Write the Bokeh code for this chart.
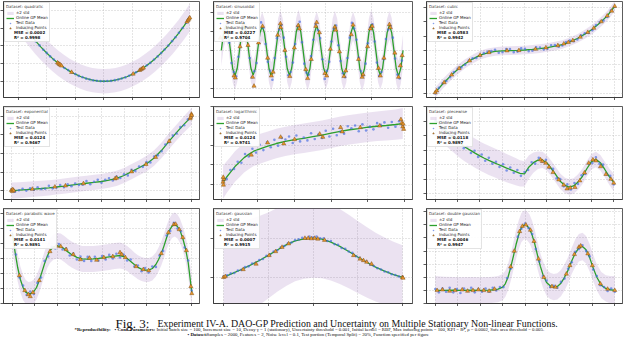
from bokeh.plotting import figure
from bokeh.models import (Range1d, SingleIntervalTicker, CustomJSTickFormatter,
                          Legend, LegendItem, Label)
from bokeh.layouts import column, row
from bokeh.embed import file_html
from bokeh.resources import INLINE

# ------------------------------------------------------------------ data
grid_125 = [-3.0, -2.875, -2.75, -2.625, -2.5, -2.375, -2.25, -2.125, -2.0, -1.875,
            -1.75, -1.625, -1.5, -1.375, -1.25, -1.125, -1.0, -0.875, -0.75, -0.625,
            -0.5, -0.375, -0.25, -0.125, 0.0, 0.125, 0.25, 0.375, 0.5, 0.625,
            0.75, 0.875, 1.0, 1.125, 1.25, 1.375, 1.5, 1.625, 1.75, 1.875,
            2.0, 2.125, 2.25, 2.375, 2.5, 2.625, 2.75, 2.875, 3.0]
grid_0_10 = [0.0, 0.2, 0.4, 0.6, 0.8, 1.0, 1.2, 1.4, 1.6, 1.8, 2.0, 2.2, 2.4, 2.6, 2.8,
             3.0, 3.2, 3.4, 3.6, 3.8, 4.0, 4.2, 4.4, 4.6, 4.8, 5.0, 5.2, 5.4, 5.6, 5.8,
             6.0, 6.2, 6.4, 6.6, 6.8, 7.0, 7.2, 7.4, 7.6, 7.8, 8.0, 8.2, 8.4, 8.6, 8.8,
             9.0, 9.2, 9.4, 9.6, 9.8, 10.0]
grid_m5_5 = [-5.0, -4.8, -4.6, -4.4, -4.2, -4.0, -3.8, -3.6, -3.4, -3.2, -3.0, -2.8, -2.6,
             -2.4, -2.2, -2.0, -1.8, -1.6, -1.4, -1.2, -1.0, -0.8, -0.6, -0.4, -0.2, 0.0,
             0.2, 0.4, 0.6, 0.8, 1.0, 1.2, 1.4, 1.6, 1.8, 2.0, 2.2, 2.4, 2.6, 2.8, 3.0,
             3.2, 3.4, 3.6, 3.8, 4.0, 4.2, 4.4, 4.6, 4.8, 5.0]

# quadratic
quad_x = [-2.8, -2.6, -2.4, -2.2, -2.0, -1.8, -1.6, -1.4, -1.2, -1.0, -0.8, -0.6, -0.4, -0.2, 0.0,
          0.2, 0.4, 0.6, 0.8, 1.0, 1.2, 1.4, 1.6, 1.8, 2.0, 2.2, 2.4, 2.6, 2.8, 3.0]
quad_mean = [7.84, 6.76, 5.76, 4.84, 4.0, 3.24, 2.56, 1.96, 1.44, 1.0, 0.64, 0.36, 0.16, 0.04, 0.0,
             0.04, 0.16, 0.36, 0.64, 1.0, 1.44, 1.96, 2.56, 3.24, 4.0, 4.84, 5.76, 6.76, 7.84, 9.0]
quad_std2 = [1.95, 1.92, 1.9, 1.87, 1.85, 1.82, 1.8, 1.78, 1.76, 1.75, 1.74, 1.73, 1.72, 1.72, 1.72,
             1.72, 1.72, 1.73, 1.74, 1.75, 1.76, 1.78, 1.8, 1.82, 1.84, 1.86, 1.88, 1.9, 1.93, 1.96]
quad_test_x = [-2.75, -2.62, -2.5, -2.38, -2.25, -2.12, -2.0, -1.88, -1.75, -1.62, -1.5, -1.38,
               -1.25, -1.12, -1.0, -0.88, -0.75, -0.62, -0.5, -0.38, -0.25, -0.12, 0.0, 0.12,
               0.25, 0.38, 0.5, 0.62, 0.75, 0.88, 1.0, 1.12, 1.25, 1.38, 1.5, 1.62, 1.75, 1.88,
               2.0, 2.12, 2.25, 2.38, 2.5, 2.62, 2.75, 2.88, 3.0]
quad_test_y = [7.58, 6.84, 6.27, 5.64, 5.08, 4.47, 4.02, 3.52, 3.08, 2.61, 2.27, 1.88, 1.58, 1.24,
               1.02, 0.76, 0.58, 0.37, 0.26, 0.13, 0.08, 0.02, 0.01, 0.03, 0.06, 0.16, 0.24, 0.4,
               0.55, 0.79, 0.99, 1.27, 1.55, 1.92, 2.26, 2.61, 3.08, 3.52, 4.01, 4.5, 5.05, 5.68,
               6.24, 6.88, 7.55, 8.3, 9.02]
quad_ind_x = [-1.62, -1.58, -1.55, -1.52, -1.48, -1.13, 1.02, 1.25, 1.3, 1.34, 1.38, 2.9, 2.94, 2.97, 3.0]
quad_ind_y = [2.62, 2.5, 2.4, 2.31, 2.19, 1.28, 1.04, 1.56, 1.69, 1.8, 1.9, 8.41, 8.64, 8.82, 9.0]

# sinusoidal (x in periods)
sin_x = [-0.75, -0.625, -0.5, -0.375, -0.25, -0.125, 0.0, 0.125,
         0.25, 0.375, 0.5, 0.625, 0.75, 0.875, 1.0, 1.125,
         1.25, 1.375, 1.5, 1.625, 1.75, 1.875, 2.0, 2.125,
         2.25, 2.375, 2.5, 2.625, 2.75, 2.875, 3.0, 3.125,
         3.25, 3.375, 3.5, 3.625, 3.75, 3.875, 4.0, 4.125,
         4.25, 4.375, 4.5, 4.625, 4.75, 4.875, 5.0, 5.125,
         5.25, 5.375, 5.5, 5.625, 5.75, 5.875, 6.0, 6.125,
         6.25, 6.375, 6.5, 6.625, 6.75, 6.875, 7.0, 7.125,
         7.25, 7.375, 7.5, 7.625, 7.75, 7.875, 8.0, 8.125,
         8.25, 8.375, 8.5, 8.625, 8.75, 8.875, 9.0, 9.125,
         9.25]
sin_mean = [0.0, 0.69, 0.98, 0.70, 0.01, -0.71, -1.0, -0.70,
            0.0, 0.72, 1.02, 0.71, -0.01, -0.69, -0.97, -0.71,
            0.01, 0.68, 0.95, 0.68, 0.0, -0.72, -1.03, -0.72,
            -0.01, 0.70, 1.0, 0.71, 0.01, -0.70, -0.99, -0.69,
            0.0, 0.73, 1.04, 0.72, 0.0, -0.71, -1.02, -0.71,
            0.01, 0.69, 0.97, 0.68, -0.01, -0.68, -0.96, -0.69,
            0.0, 0.70, 1.0, 0.70, 0.0, -0.71, -1.0, -0.72,
            -0.01, 0.68, 0.96, 0.69, 0.01, -0.73, -1.04, -0.73,
            0.0, 0.72, 1.03, 0.72, 0.0, -0.70, -0.98, -0.70,
            0.01, 0.70, 0.99, 0.70, 0.0, -0.71, -1.01, -0.71,
            0.0]
sin_std2 = [0.62, 0.6, 0.58, 0.57, 0.56, 0.55, 0.55, 0.55,
            0.55, 0.55, 0.56, 0.55, 0.55, 0.55, 0.56, 0.55,
            0.55, 0.55, 0.56, 0.55, 0.55, 0.55, 0.56, 0.55,
            0.55, 0.55, 0.56, 0.55, 0.55, 0.55, 0.56, 0.55,
            0.55, 0.55, 0.56, 0.55, 0.55, 0.55, 0.56, 0.55,
            0.55, 0.55, 0.56, 0.55, 0.55, 0.55, 0.56, 0.55,
            0.55, 0.55, 0.56, 0.55, 0.55, 0.55, 0.56, 0.55,
            0.55, 0.55, 0.56, 0.55, 0.55, 0.55, 0.56, 0.55,
            0.55, 0.55, 0.56, 0.55, 0.55, 0.55, 0.56, 0.55,
            0.55, 0.55, 0.56, 0.57, 0.58, 0.59, 0.6, 0.61,
            0.62]
sin_test_x = [-0.688, -0.562, -0.438, -0.312, -0.188, -0.062, 0.062, 0.188,
              0.312, 0.438, 0.562, 0.688, 0.812, 0.938, 1.062, 1.188,
              1.312, 1.438, 1.562, 1.688, 1.812, 1.938, 2.062, 2.188,
              2.312, 2.438, 2.562, 2.688, 2.812, 2.938, 3.062, 3.188,
              3.312, 3.438, 3.562, 3.688, 3.812, 3.938, 4.062, 4.188,
              4.312, 4.438, 4.562, 4.688, 4.812, 4.938, 5.062, 5.188,
              5.312, 5.438, 5.562, 5.688, 5.812, 5.938, 6.062, 6.188,
              6.312, 6.438, 6.562, 6.688, 6.812, 6.938, 7.062, 7.188,
              7.312, 7.438, 7.562, 7.688, 7.812, 7.938, 8.062, 8.188,
              8.312, 8.438, 8.562, 8.688, 8.812, 8.938, 9.062, 9.188]
sin_test_y = [0.45, 0.85, 1.05, 0.3, -0.5, -0.85, -1.02, -0.25,
              0.52, 0.98, 0.8, 0.45, -0.3, -1.05, -0.82, -0.5,
              0.3, 1.1, 0.88, 0.25, -0.45, -0.8, -1.15, -0.3,
              0.48, 0.82, 1.0, 0.5, -0.25, -0.98, -0.85, -0.48,
              0.25, 0.95, 1.12, 0.32, -0.52, -0.88, -0.95, -0.22,
              0.42, 1.02, 0.8, 0.48, -0.35, -1.12, -0.8, -0.45,
              0.35, 0.85, 0.98, 0.2, -0.42, -0.9, -1.05, -0.3,
              0.5, 1.08, 0.86, 0.42, -0.28, -0.82, -0.98, -0.52,
              0.28, 0.9, 1.02, 0.35, -0.48, -1.0, -0.85, -0.35,
              0.45, 0.82, 0.95, 0.5, -0.32, -0.95, -1.1, -0.4]
sin_ind_x = [-0.8, -0.05, 0.02, 0.28, 0.48, 0.72, 0.97, 1.05, 1.3, 1.52, 1.8, 2.0, 2.1, 2.35,
             2.5, 2.52, 2.75, 3.02, 3.27, 3.48, 3.55, 3.9, 4.0, 4.2, 4.45, 4.5, 4.65, 4.95,
             5.05, 5.25, 5.5, 5.55, 5.75, 6.0, 6.1, 6.4, 6.5, 6.8, 7.0, 7.05, 7.3, 7.45,
             7.55, 7.9, 8.0, 8.2, 8.5, 8.55, 8.8, 9.0, 9.1, 9.2]
sin_ind_y = [0.49, -1.0, -1.08, 0.15, 1.0, 0.2, -1.05, -1.4, 0.3, 0.95, -0.3, -1.0, -0.85, 0.6,
             1.05, 0.9, 0.0, -1.02, 0.1, 0.98, 0.85, -0.75, -1.1, -0.35, 0.95, 1.1, 0.7, -0.9,
             -1.0, 0.05, 0.92, 0.8, -0.05, -1.02, -0.8, 0.62, 1.0, -0.35, -1.05, -0.95, 0.15, 0.85,
             0.95, -0.7, -1.0, -0.3, 1.02, 0.9, -0.1, -1.05, -0.6, -0.2]

# cubic
cub_x = [-3.0, -2.75, -2.5, -2.25, -2.0, -1.75, -1.5, -1.25, -1.0, -0.75, -0.5, -0.25, 0.0,
         0.25, 0.5, 0.75, 1.0, 1.25, 1.5, 1.75, 2.0, 2.25, 2.5, 2.75, 3.0]
cub_mean = [-29.3, -23.3, -18.0, -13.3, -9.3, -6.0, -3.3, -1.7, -0.7, -0.3, -0.1, 0.0, 0.3,
            0.7, 1.3, 2.0, 3.0, 4.1, 6.0, 8.3, 11.3, 14.7, 19.0, 24.0, 30.7]
cub_std2 = [3.6, 3.4, 3.3, 3.2, 3.1, 3.0, 3.0, 3.0, 3.0, 3.0, 3.0, 3.0, 3.0,
            3.0, 3.0, 3.0, 3.0, 3.0, 3.0, 3.0, 3.1, 3.2, 3.3, 3.4, 3.6]
cub_test_y = [-29.8, -26.0, -22.8, -21.2, -18.6, -15.0, -12.7, -11.8, -9.9, -7.0, -5.4, -5.3,
              -3.9, -1.9, -1.0, -0.4, 0.4, -1.6, -1.3, 1.0, 0.9, -1.2, -0.8, 1.4, 1.1, -0.6,
              -0.2, 2.2, 2.0, 0.6, 1.2, 3.6, 3.7, 2.6, 3.4, 5.9, 6.8, 6.4, 7.6, 10.6, 11.9,
              12.1, 14.0, 17.6, 19.7, 20.8, 23.3, 27.9, 30.2]
cub_ind_x = [-3.0, -2.95, -2.7, -2.45, -2.2, -1.85, -1.5, -1.2, -0.6, -0.2, 0.35, 0.7, 1.1,
             1.3, 1.45, 1.6, 1.85, 2.1, 2.3, 2.55, 2.75, 2.9, 3.0]
cub_ind_y = [-29.3, -28.0, -22.3, -17.0, -12.5, -7.2, -3.3, -1.4, -0.2, 0.0, 0.9, 1.9, 3.4,
             4.6, 5.6, 6.9, 9.3, 12.6, 15.5, 20.0, 24.0, 27.4, 30.7]

# exponential
exp_x = [-3.0, -2.75, -2.5, -2.25, -2.0, -1.75, -1.5, -1.25, -1.0, -0.75, -0.5, -0.25, 0.0,
         0.25, 0.5, 0.75, 1.0, 1.25, 1.5, 1.75, 2.0, 2.25, 2.5, 2.75, 3.0]
exp_mean = [0.0, 0.10, 0.26, 0.42, 0.57, 0.76, 0.97, 1.20, 1.46, 1.72, 1.98, 2.2, 2.45,
            2.82, 3.29, 4.07, 5.12, 6.16, 7.26, 8.77, 10.86, 13.34, 15.69, 17.91, 19.99]
exp_std2 = [2.2, 2.15, 2.1, 2.1, 2.1, 2.05, 2.05, 2.05, 2.05, 2.05, 2.05, 2.05, 2.05,
            2.05, 2.05, 2.05, 2.05, 2.05, 2.1, 2.1, 2.1, 2.15, 2.15, 2.2, 2.3]
exp_test_y = [0.3, -0.3, 0.1, 0.5, 0.0, 0.6, 0.2, 0.9, 0.4, 0.5, 1.3, 0.6, 0.8, 1.5, 0.9,
              1.7, 1.2, 1.9, 1.5, 1.6, 2.6, 1.7, 2.4, 2.9, 2.1, 2.9, 3.3, 2.7, 3.8, 3.4,
              4.4, 4.1, 5.6, 5.3, 6.5, 6.4, 7.7, 7.6, 9.2, 9.5, 10.6, 12.4, 13.0, 14.8, 15.4,
              17.1, 17.6, 19.2, 19.8]
exp_ind_x = [-3.0, -2.97, -2.95, -2.92, -2.3, -1.55, -1.2, -0.6, 0.45, 0.5, 1.0, 1.48, 1.8,
             2.25, 2.95, 2.97, 2.99, 3.0]
exp_ind_y = [0.1, -0.2, 0.3, 0.0, 0.4, 1.0, 1.3, 1.9, 3.2, 3.4, 5.1, 7.1, 9.0, 13.3, 19.4,
             19.8, 20.6, 20.3]

# logarithmic
log_x = [0.1, 0.3, 0.5, 0.75, 1.0, 1.25, 1.5, 1.75, 2.0, 2.5, 3.0, 3.5, 4.0, 4.5, 5.0, 5.5,
         6.0, 6.5, 7.0, 7.5, 8.0, 8.5, 9.0, 9.5, 9.9]
log_mean = [0.09, 0.36, 0.6, 0.9, 1.13, 1.36, 1.53, 1.68, 1.78, 1.94, 2.09, 2.2, 2.29, 2.36,
            2.44, 2.52, 2.62, 2.72, 2.8, 2.86, 2.93, 2.98, 3.02, 3.07, 3.12]
log_std2 = [0.85, 0.82, 0.8, 0.79, 0.78, 0.77, 0.77, 0.77, 0.77, 0.76, 0.76, 0.76, 0.76, 0.76,
            0.76, 0.76, 0.76, 0.76, 0.76, 0.76, 0.76, 0.76, 0.77, 0.78, 0.8]
log_test_x = [0.1, 0.3, 0.5, 0.7, 0.9, 1.1, 1.3, 1.5, 1.7, 1.9, 2.1, 2.3, 2.5, 2.7, 2.9, 3.1,
              3.3, 3.5, 3.7, 3.9, 4.1, 4.3, 4.5, 4.7, 4.9, 5.1, 5.3, 5.5, 5.7, 5.9, 6.1, 6.3,
              6.5, 6.7, 6.9, 7.1, 7.3, 7.5, 7.7, 7.9, 8.1, 8.3, 8.5, 8.7, 8.9, 9.1, 9.3, 9.5,
              9.7, 9.9]
log_test_y = [0.15, 0.25, 0.72, 0.78, 1.15, 1.1, 1.55, 1.42, 1.82, 1.62,
              2.02, 1.75, 2.15, 1.9, 2.28, 1.98, 2.38, 2.3, 2.45, 2.12,
              2.5, 2.2, 2.4, 2.25, 2.62, 2.32, 2.55, 2.38, 2.75, 2.45,
              2.85, 2.52, 2.7, 2.6, 2.98, 2.88, 3.02, 2.72, 3.08, 2.76,
              2.95, 2.82, 3.14, 3.05, 3.18, 2.9, 3.2, 2.96, 3.24, 3.0]
log_ind_x = [0.1, 0.12, 0.14, 0.11, 1.64, 2.53, 3.24, 3.41, 4.0, 5.37, 5.54, 6.51, 6.6, 7.58,
             8.64, 9.8, 9.85, 9.9, 9.95, 9.92]
log_ind_y = [0.1, -0.05, 0.25, 0.35, 1.5, 2.13, 2.42, 2.08, 2.3, 2.58, 2.42, 2.92, 2.7, 2.92,
             3.0, 3.33, 3.15, 2.95, 2.83, 3.1]

# piecewise
pw_x = [0.0, 0.25, 0.5, 0.75, 1.0, 1.25, 1.5, 1.75, 2.0, 2.25, 2.5, 2.75, 3.0, 3.25, 3.5,
        3.75, 4.0, 4.25, 4.5, 4.75, 5.0, 5.25, 5.5, 5.75, 6.0, 6.25, 6.5, 6.75, 7.0, 7.25,
        7.5, 7.75, 8.0, 8.25, 8.5, 8.75, 9.0, 9.25, 9.5, 9.75, 10.0]
pw_mean = [2.3, 2.05, 1.82, 1.6, 1.4, 1.2, 1.02, 0.86, 0.72, 0.58, 0.45, 0.33, 0.22, 0.12, 0.02,
           -0.08, -0.18, -0.27, -0.36, -0.45, -0.48, -0.12, 0.1, 0.23, 0.24, 0.1, -0.2, -0.52,
           -0.86, -1.06, -1.16, -1.1, -0.9, -0.6, -0.2, 0.15, 0.27, 0.1, -0.25, -0.62, -0.92]
pw_std2 = [0.8, 0.78, 0.77, 0.76, 0.75, 0.75, 0.75, 0.75, 0.75, 0.75, 0.75, 0.75, 0.75, 0.75,
           0.75, 0.74, 0.73, 0.72, 0.7, 0.68, 0.65, 0.6, 0.52, 0.45, 0.42, 0.4, 0.4, 0.4, 0.4,
           0.4, 0.4, 0.4, 0.4, 0.4, 0.4, 0.4, 0.4, 0.4, 0.4, 0.42, 0.45]
pw_test_y = [2.25, 2.2, 1.8, 1.85, 1.48, 1.52, 1.1, 1.2, 0.85, 0.95,
             0.6, 0.72, 0.4, 0.52, 0.2, 0.35, 0.05, 0.15, -0.12, 0.02,
             -0.3, -0.15, -0.42, -0.28, -0.58, -0.38, -0.28, 0.12, 0.05, 0.35,
             0.15, 0.25, -0.18, -0.22, -0.7, -0.75, -1.12, -1.02, -1.28, -0.95,
             -1.0, -0.55, -0.48, 0.05, 0.08, 0.38, 0.05, 0.0, -0.5, -0.58, -1.02]
pw_ind_x = [5.9, 6.0, 6.19, 6.37, 6.6, 6.92, 7.2, 7.38, 7.56, 7.83, 8.1, 8.36, 8.6, 8.83, 9.0,
            9.26, 9.56, 9.84, 10.0]
pw_ind_y = [0.25, 0.17, 0.08, -0.12, -0.4, -0.78, -1.05, -1.25, -1.2, -1.17, -0.83, -0.42,
            0.08, 0.25, 0.2, -0.1, -0.5, -0.75, -0.95]

# parabolic wave
pb_x = [0.0, 0.15, 0.3, 0.45, 0.6, 0.75, 0.9, 1.05, 1.2, 1.35, 1.5, 1.65, 1.8, 1.95,
        2.1, 2.3, 2.5, 2.7, 2.9, 3.1, 3.3, 3.6, 3.9, 4.2, 4.5, 4.8, 5.1, 5.4, 5.7, 6.0,
        6.2, 6.4, 6.6, 6.8, 7.0, 7.2, 7.4, 7.6, 7.8, 8.0, 8.15, 8.3, 8.45, 8.6, 8.75, 8.9,
        9.05, 9.2, 9.35, 9.5, 9.65, 9.8, 9.9, 10.0]
pb_mean = [1.3, 0.35, -0.45, -1.05, -1.45, -1.68, -1.77, -1.75, -1.65, -1.45, -1.1, -0.68,
           -0.25, 0.12, 0.4, 0.58, 0.63, 0.6, 0.48, 0.33, 0.2, 0.06, -0.02, -0.03, -0.02, 0.0,
           0.04, 0.08, 0.12, 0.15, 0.1, 0.0, -0.15, -0.3, -0.44, -0.53, -0.58, -0.58, -0.5,
           -0.3, -0.05, 0.25, 0.62, 1.05, 1.4, 1.62, 1.7, 1.6, 1.38, 1.0, 0.5, -0.2, -0.95, -1.7]
pb_std2 = [0.85, 0.78, 0.7, 0.65, 0.62, 0.6, 0.6, 0.6, 0.6, 0.6, 0.6, 0.6, 0.6, 0.6,
           0.62, 0.63, 0.64, 0.65, 0.65, 0.65, 0.65, 0.65, 0.65, 0.65, 0.65, 0.65, 0.65, 0.65,
           0.65, 0.65, 0.64, 0.63, 0.62, 0.6, 0.6, 0.6, 0.6, 0.6, 0.6, 0.6, 0.6, 0.6, 0.6, 0.6,
           0.6, 0.6, 0.6, 0.6, 0.6, 0.6, 0.62, 0.66, 0.72, 0.8]
pb_test_y = [1.2, 0.2, -0.95, -1.35, -1.82, -1.65, -1.78, -1.22, -0.95, -0.12,
             0.1, 0.58, 0.5, 0.72, 0.45, 0.5, 0.15, 0.25, -0.05, 0.1,
             -0.12, 0.08, -0.12, 0.09, -0.1, 0.12, -0.05, 0.18, 0.0, 0.24,
             0.05, 0.2, -0.1, -0.05, -0.4, -0.35, -0.64, -0.48, -0.7, -0.4,
             -0.42, 0.15, 0.38, 1.15, 1.38, 1.78, 1.5, 1.36, 0.55, -0.1, -1.6]
pb_ind_x = [0.4, 0.7, 0.9, 1.0, 1.15, 1.5, 2.1, 2.45, 2.7, 3.0, 3.4, 3.8, 4.3, 4.7, 5.1, 5.6,
            6.0, 6.1, 6.3, 6.9, 7.3, 7.6, 8.3, 8.7, 9.0, 9.1, 9.3, 9.5, 9.7, 9.95, 10.0]
pb_ind_y = [-0.85, -1.6, -1.8, -1.9, -1.7, -1.1, 0.35, 0.62, 0.6, 0.45, 0.2, -0.05, 0.02,
            -0.08, 0.05, 0.1, 0.3, 0.2, 0.05, -0.4, -0.55, -0.6, 0.25, 1.3, 1.7, 1.72, 1.45,
            1.05, 0.4, -1.4, -1.75]

# gaussian
g_x = [-5.0, -4.5, -4.0, -3.5, -3.0, -2.5, -2.0, -1.5, -1.0, -0.5, 0.0, 0.5, 1.0, 1.5, 2.0,
       2.5, 3.0, 3.5, 4.0, 4.5, 5.0]
g_mean = [0.0, 0.1, 0.2, 0.31, 0.43, 0.56, 0.7, 0.83, 0.93, 0.985, 1.0, 0.975, 0.9, 0.79,
          0.66, 0.52, 0.385, 0.26, 0.16, 0.07, 0.0]
g_std2 = [1.3, 1.26, 1.22, 1.18, 1.14, 1.1, 1.07, 1.05, 1.03, 1.02, 1.01, 1.0, 0.98, 0.96,
          0.94, 0.92, 0.9, 0.88, 0.86, 0.84, 0.82]
g_test_y = [0.02, 0.05, 0.1, 0.11, 0.17, 0.19, 0.26, 0.28, 0.35, 0.37,
            0.44, 0.47, 0.55, 0.58, 0.66, 0.69, 0.77, 0.8, 0.87, 0.89,
            0.95, 0.97, 1.01, 1.0, 1.04, 1.02, 1.04, 1.0, 1.0, 0.93,
            0.93, 0.85, 0.83, 0.75, 0.73, 0.66, 0.63, 0.54, 0.5, 0.43,
            0.4, 0.32, 0.29, 0.23, 0.2, 0.15, 0.13, 0.08, 0.06, 0.02, 0.01]
g_ind_x = [-5.0, -4.9, -3.9, -3.18, -2.45, -2.09, -1.73, -1.36, -0.45, -0.27, -0.09, 0.09,
           0.27, 0.64, 2.27, 2.63, 2.82, 3.0, 3.27, 5.0, 5.03]
g_ind_y = [0.0, 0.02, 0.2, 0.34, 0.56, 0.66, 0.77, 0.86, 1.0, 1.0, 0.99, 1.0, 0.98, 0.95,
           0.56, 0.47, 0.43, 0.39, 0.34, 0.0, -0.02]

# double gaussian
dg_x = [-5.0, -4.5, -4.0, -3.5, -3.0, -2.5, -2.0, -1.75, -1.5, -1.25, -1.1, -0.95, -0.8,
        -0.65, -0.5, -0.35, -0.2, -0.05, 0.1, 0.25, 0.4, 0.55, 0.7, 0.85, 1.0, 1.2, 1.4,
        1.6, 1.8, 2.0, 2.2, 2.4, 2.6, 2.8, 3.0, 3.2, 3.4, 3.6, 3.8, 4.0, 4.25, 4.5, 4.75, 5.0]
dg_mean = [0.0, 0.0, 0.005, 0.0, 0.005, 0.0, 0.005, 0.01, 0.02, 0.05, 0.1, 0.2, 0.35, 0.52,
           0.7, 0.85, 0.96, 1.0, 0.99, 0.94, 0.84, 0.7, 0.53, 0.37, 0.24, 0.12, 0.07, 0.05,
           0.06, 0.11, 0.2, 0.31, 0.45, 0.57, 0.65, 0.67, 0.62, 0.5, 0.34, 0.2, 0.08, 0.03,
           0.01, 0.0]
dg_std2 = [0.22, 0.21, 0.2, 0.2, 0.2, 0.2, 0.2, 0.2, 0.2, 0.2, 0.2, 0.2, 0.21, 0.21, 0.22,
           0.22, 0.22, 0.22, 0.22, 0.22, 0.22, 0.21, 0.21, 0.2, 0.2, 0.2, 0.2, 0.2, 0.2, 0.2,
           0.2, 0.2, 0.2, 0.21, 0.21, 0.21, 0.21, 0.21, 0.2, 0.2, 0.2, 0.2, 0.21, 0.22]
dg_test_y = [0.02, -0.03, 0.03, -0.02, 0.04, -0.03, 0.02, -0.04, 0.03, -0.01,
             0.04, -0.03, 0.02, -0.02, 0.03, -0.02, 0.04, 0.0, 0.05, 0.05,
             0.19, 0.33, 0.6, 0.82, 0.94, 1.02, 0.95, 0.86, 0.63, 0.44,
             0.22, 0.15, 0.05, 0.07, 0.04, 0.13, 0.18, 0.33, 0.43, 0.59,
             0.63, 0.69, 0.6, 0.52, 0.32, 0.22, 0.08, 0.05, -0.01, 0.03, -0.02]
dg_ind_x = [-4.9, -4.6, -4.2, -3.9, -3.5, -3.2, -2.9, -2.6, -2.3, -2.0, -1.7, -0.8, -0.6,
            -0.3, -0.15, 0.05, 0.3, 0.5, 0.75, 1.05, 1.5, 1.7, 2.3, 2.5, 2.75, 3.0, 3.1, 3.5,
            3.75, 4.2, 4.6, 5.0]
dg_ind_y = [0.0, 0.01, -0.01, 0.0, 0.01, -0.01, 0.0, 0.01, 0.0, -0.01, 0.02, 0.36, 0.6, 0.9,
            0.98, 1.0, 0.92, 0.75, 0.48, 0.2, 0.06, 0.05, 0.25, 0.38, 0.55, 0.66, 0.68, 0.56,
            0.38, 0.1, 0.02, 0.0]

dataset_names = ["quadratic", "sinusoidal", "cubic", "exponential", "logarithmic",
                 "piecewise", "parabolic wave", "gaussian", "double gaussian"]
mse_values = ["0.0002", "0.0227", "0.0583", "0.0124", "0.0124", "0.0118", "0.0141", "0.0007", "0.0046"]
r2_values = ["0.9998", "0.9704", "0.9942", "0.9467", "0.9741", "0.9897", "0.9891", "0.9915", "0.9947"]

# ------------------------------------------------------------------ styling / layout
BAND_C, BAND_A = "#7b3f9e", 0.15
MEAN_C = "#2ca02c"
TEST_C = "#4169e1"
IND_FILL, IND_LINE = "#e8962e", "#6b3f0a"
FONT = "DejaVu Sans"
LFS = 4.0                      # legend font size (px)
LM, LP, GW, GH, LS, RH, TS = 1, 1, 8, 4, 2, 5, 1   # integer legend metrics
TH = 4.66                      # estimated title text height

COL_W = [196, 199, 196]
ROW_H = [96, 93, 95]

specs = [
    (quad_x, quad_mean, quad_std2, quad_test_x, quad_test_y, quad_ind_x, quad_ind_y,
     (-3.51, 3.34), (-2.3, 11.3), 1.0, 2.5),
    (sin_x, sin_mean, sin_std2, sin_test_x, sin_test_y, sin_ind_x, sin_ind_y,
     (-1.18, 9.77), (-1.85, 1.92), 2.5, 0.75),
    (cub_x, cub_mean, cub_std2, grid_125, cub_test_y, cub_ind_x, cub_ind_y,
     (-3.29, 3.26), (-32.7, 34.0), 0.75, 10),
    (exp_x, exp_mean, exp_std2, grid_125, exp_test_y, exp_ind_x, exp_ind_y,
     (-3.26, 3.26), (-2.4, 22.66), 0.75, 5),
    (log_x, log_mean, log_std2, log_test_x, log_test_y, log_ind_x, log_ind_y,
     (-0.42, 10.43), (-0.8, 4.0), 2, 1),
    (pw_x, pw_mean, pw_std2, grid_0_10, pw_test_y, pw_ind_x, pw_ind_y,
     (-0.49, 10.49), (-1.8, 3.0), 1.25, 0.75),
    (pb_x, pb_mean, pb_std2, grid_0_10, pb_test_y, pb_ind_x, pb_ind_y,
     (-0.49, 10.43), (-2.25, 2.5), 1.25, 0.75),
    (g_x, g_mean, g_std2, grid_m5_5, g_test_y, g_ind_x, g_ind_y,
     (-5.56, 5.56), (-0.67, 1.76), 2.5, 1),
    (dg_x, dg_mean, dg_std2, grid_m5_5, dg_test_y, dg_ind_x, dg_ind_y,
     (-5.49, 5.43), (-0.2, 1.25), 1.25, 0.2),
]


def style_axis(ax, interval):
    ax.ticker = SingleIntervalTicker(interval=interval, num_minor_ticks=0)
    ax.formatter = CustomJSTickFormatter(code="return ''")
    ax.major_label_text_font_size = "1px"
    ax.major_label_standoff = 0
    ax.major_tick_out = 3
    ax.major_tick_in = 0
    ax.minor_tick_line_color = None
    ax.axis_line_color = "#333333"
    ax.axis_line_width = 0.8
    ax.major_tick_line_color = "#333333"
    ax.major_tick_line_width = 0.8


def legend_common(**extra):
    kw = dict(spacing=0, glyph_width=GW, glyph_height=GH, label_height=RH, label_width=10,
              label_standoff=LS, label_text_font=FONT, label_text_font_size=f"{LFS}px",
              label_text_color="#222222", padding=LP)
    kw.update(extra)
    return kw


def build_panel(i):
    xs, mean, std2, tx, ty, ix, iy, xr, yr, xint, yint = specs[i]
    fw, fh = COL_W[i % 3], ROW_H[i // 3]
    p = figure(frame_width=fw, frame_height=fh, x_range=Range1d(*xr), y_range=Range1d(*yr),
               output_backend="svg", toolbar_location=None,
               min_border_left=3, min_border_right=1, min_border_top=1, min_border_bottom=3)
    p.background_fill_color = "white"
    p.outline_line_color = "#333333"
    p.outline_line_width = 0.8
    style_axis(p.xaxis[0], xint)
    style_axis(p.yaxis[0], yint)
    p.grid.grid_line_color = "#aaaaaa"
    p.grid.grid_line_dash = "1 2"
    p.grid.grid_line_width = 0.6

    lower = [m - s for m, s in zip(mean, std2)]
    upper = [m + s for m, s in zip(mean, std2)]
    band = p.varea(x=xs, y1=lower, y2=upper, fill_color=BAND_C, fill_alpha=BAND_A)
    line = p.line(xs, mean, line_color=MEAN_C, line_width=1.3)
    test = p.scatter(tx, ty, size=2.6, fill_color=TEST_C, line_color=None, fill_alpha=0.65)
    ind = p.scatter(ix, iy, marker="triangle", size=4.2, fill_color=IND_FILL,
                    line_color=IND_LINE, line_width=0.4)
    dummy = p.scatter(x=[], y=[], alpha=0)

    items = [LegendItem(label="±2 std", renderers=[band]),
             LegendItem(label="Online GP Mean", renderers=[line]),
             LegendItem(label="Test Data", renderers=[test]),
             LegendItem(label="Inducing Points", renderers=[ind]),
             LegendItem(label=" ", renderers=[dummy]),
             LegendItem(label=" ", renderers=[dummy])]
    leg = Legend(items=items, title="Dataset: " + dataset_names[i], location="top_left",
                 margin=LM,
                 title_text_font=FONT, title_text_font_size=f"{LFS}px",
                 title_text_font_style="normal", title_text_color="#444444",
                 title_standoff=TS,
                 border_line_color="#c8c8c8", border_line_width=0.6,
                 background_fill_color="white", background_fill_alpha=0.9,
                 **legend_common())
    p.add_layout(leg)

    # bold metric rows, drawn by a second (transparent) legend over the reserved rows
    top_of_rows = LM + LP + TH + TS + 4 * RH - LP
    h2 = 2 * LP + 2 * RH
    metrics = Legend(items=[LegendItem(label="MSE = " + mse_values[i], renderers=[dummy]),
                            LegendItem(label="R² = " + r2_values[i], renderers=[dummy])],
                     location=(LM, fh - top_of_rows - h2), margin=0,
                     border_line_color=None, background_fill_alpha=0,
                     **legend_common(label_text_font_style="bold", label_text_color="#111111"))
    p.add_layout(metrics)
    return p


panels = [build_panel(i) for i in range(9)]

# caption
cap = figure(width=624, height=26, x_range=Range1d(0, 624), y_range=Range1d(0, 26),
             output_backend="svg", toolbar_location=None, x_axis_type=None, y_axis_type=None,
             min_border=0)
cap.grid.visible = False
cap.outline_line_color = None
SERIF = "Liberation Serif"
cap_texts = [
    (115.0, 14.0, "Fig. 3:", "13px", "normal"),
    (157.0, 14.0, "Experiment  IV-A. DAO-GP Prediction and Uncertainty on Multiple Stationary Non-linear Functions.", "9.9px", "normal"),
    (74.0, 7.6, "*Reproducibility:", "4.8px", "bold"),
    (114.0, 7.6, "• Conf. Parameters:", "4.8px", "bold"),
    (156.0, 7.6, "Initial batch size = 100, Increment size = 10, Decay γ = 1 (stationary), Uncertainty threshold = 0.001, Initial kernel = RBF, Max inducing points = 100, KPI = R², ρ = 0.0002, Safe area threshold = 0.005.", "4.8px", "normal"),
    (187.0, 2.8, "• Dataset:", "4.8px", "bold"),
    (206.0, 2.8, "Samples = 2000, Features = 2, Noise level = 0.1, Test portion (Temporal Split) = 20%, Function specified per figure", "4.8px", "normal"),
]
for x, y, t, fs, st in cap_texts:
    cap.add_layout(Label(x=x, y=y, x_units="screen", y_units="screen", text=t,
                         text_font=SERIF, text_font_size=fs, text_font_style=st,
                         text_baseline="alphabetic", text_align="left", text_color="#111111"))

layout = column(row(panels[0], panels[1], panels[2], spacing=10),
                row(panels[3], panels[4], panels[5], spacing=10),
                row(panels[6], panels[7], panels[8], spacing=10),
                cap, spacing=5)

open("out.html", "w").write(file_html(layout, INLINE))
